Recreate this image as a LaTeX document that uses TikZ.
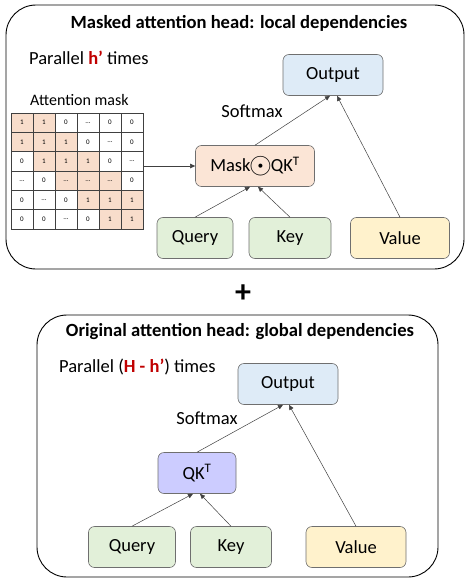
\documentclass[tikz,border=0pt]{standalone}
\usepackage{fontspec}
\setmainfont{Carlito}
\usetikzlibrary{arrows.meta}
\definecolor{outblue}{HTML}{DEEBF7}
\definecolor{maskpeach}{HTML}{FBE5D6}
\definecolor{cellpeach}{HTML}{F8DDCB}
\definecolor{inputgreen}{HTML}{E2F0D9}
\definecolor{valueyellow}{HTML}{FFF2CC}
\definecolor{qklilac}{HTML}{CCCCFF}
\definecolor{boxgray}{HTML}{6F6F6F}
\definecolor{edgegray}{HTML}{404040}
\definecolor{hred}{HTML}{C00000}
\newcommand{\link}[2]{%
  \draw[-{Triangle[length=5pt,width=4.5pt]}, draw=edgegray, line width=0.5pt]
    (#1) -- (#2);%
}
\newcommand{\dd}{...}
\newcommand{\hadamard}{\hspace{-0.07em}\raisebox{-0.1em}{\scalebox{1.7}{$\mathord{\odot}$}}\hspace{-0.07em}}

\begin{document}
\begin{tikzpicture}[
  x=1pt,
  y=-1pt,
  every node/.style={font=\fontsize{18.5}{22}\selectfont, inner sep=2pt},
  head/.style={draw=black, rounded corners=30pt, line width=0.9pt},
  title/.style={font=\fontsize{18.6}{22}\selectfont\bfseries},
  block/.style={draw=boxgray, rounded corners=6pt, line width=0.6pt, minimum height=41pt},
  outNode/.style={block, fill=outblue, minimum width=100pt},
  maskNode/.style={block, fill=maskpeach, minimum width=119pt},
  qkNode/.style={block, fill=qklilac, minimum width=78pt},
  inNode/.style={block, fill=inputgreen},
  valueNode/.style={block, fill=valueyellow, minimum width=99pt},
  cell/.style={draw=edgegray, line width=0.5pt, minimum width=22pt, minimum height=19.33pt, inner sep=0pt, font=\fontsize{7}{8}\selectfont}
]
  \useasboundingbox (0,0) rectangle (466,578);

  % Masked attention head.
  \draw[head] (6,5) rectangle (464,269);
  \node[title] (maskedtitle) at (239,23) {Masked attention head: local dependencies};
  \node[anchor=west] (maskedpar) at (27,58) {Parallel \textcolor{hred}{\textbf{h’}} times};
  \node[anchor=west, font=\fontsize{16}{19}\selectfont] (masklabel) at (28,100) {Attention mask};
  \foreach \vals [count=\r] in {{1,1,0,\dd,0,0},{1,1,1,0,\dd,0},{0,1,1,1,0,\dd},{\dd,0,\dd,\dd,\dd,0},{0,\dd,0,1,1,1},{0,0,\dd,0,1,1}}{
    \foreach \v [count=\c] in \vals {
      \pgfmathtruncatemacro\dist{abs(\c-\r)}
      \ifnum\dist<2 \def\cellfill{cellpeach}\else\def\cellfill{white}\fi
      \node[cell, fill=\cellfill] (m-\r-\c) at ({11+22*(\c-0.5)},{113+19.33*(\r-0.5)}) {\v};
    }
  }
  \node[outNode] (out1) at (333,75) {Output};
  \node (soft1) at (252,111) {Softmax};
  \node[maskNode] (mask) at (255,166) {Mask\hadamard QK\textsuperscript{T}};
  \node[inNode, minimum width=76pt] (query1) at (195,238) {Query};
  \node[inNode, minimum width=82pt] (key1) at (290,238) {Key};
  \node[valueNode] (value1) at (400,238) {Value};

  \link{mask.west -| m-3-6.east}{mask.west}
  \link{query1.north}{[xshift=-5pt]mask.south}
  \link{key1.north}{[xshift=3pt]mask.south}
  \link{mask.north}{[xshift=-3pt]out1.south}
  \link{value1.north}{[xshift=4pt]out1.south}

  \node[font=\fontsize{32}{32}\selectfont\bfseries] (plus) at (243,294) {+};

  % Original attention head.
  \draw[head] (37,315) rectangle (438,577);
  \node[title] (origtitle) at (240,332) {Original attention head: global dependencies};
  \node[anchor=west] (origpar) at (57,367) {Parallel (\textcolor{hred}{\textbf{H - h’}}) times};
  \node[outNode] (out2) at (288,384) {Output};
  \node (soft2) at (207,418) {Softmax};
  \node[qkNode] (qk) at (197,473) {QK\textsuperscript{T}};
  \node[inNode, minimum width=87pt] (query2) at (132,547) {Query};
  \node[inNode, minimum width=81pt] (key2) at (231,547) {Key};
  \node[valueNode, minimum width=100pt] (value2) at (356,547) {Value};

  \link{query2.north}{[xshift=-4pt]qk.south}
  \link{key2.north}{[xshift=3pt]qk.south}
  \link{qk.north}{[xshift=-5pt]out2.south}
  \link{value2.north}{[xshift=1pt]out2.south}
\end{tikzpicture}
\end{document}
